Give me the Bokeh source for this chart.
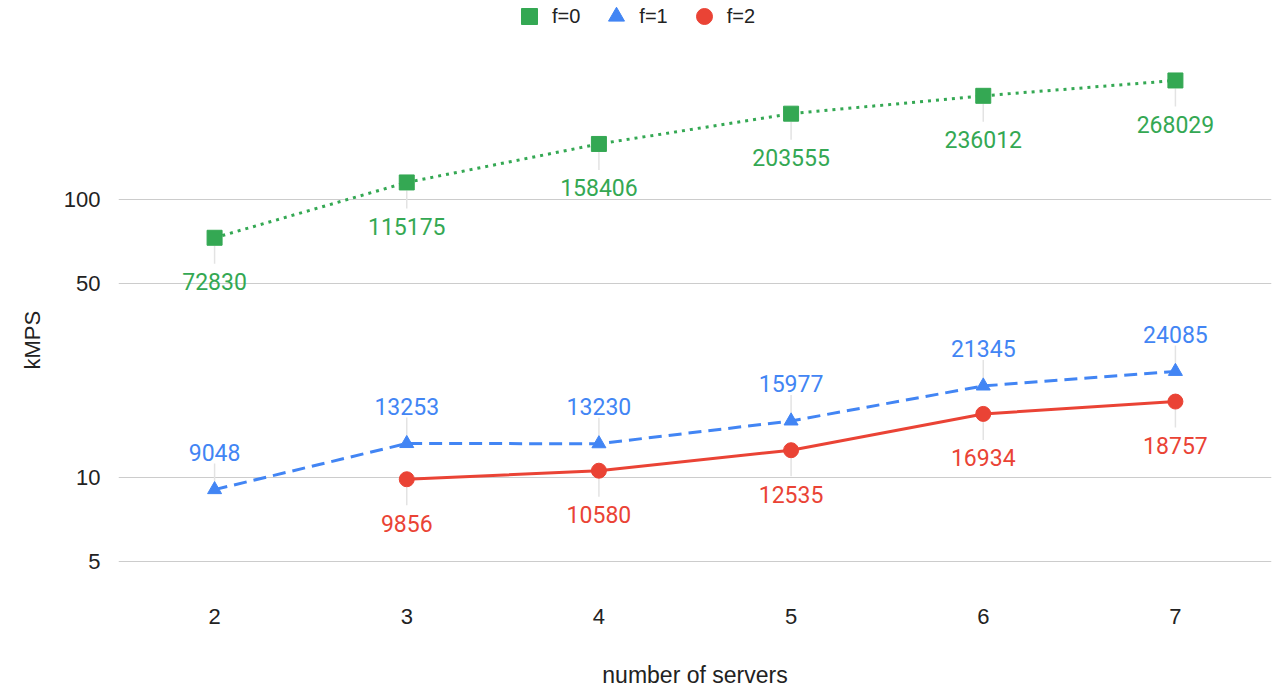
from bokeh.plotting import figure
from bokeh.models import Range1d, FixedTicker, Legend, LegendItem, ColumnDataSource, Title
from bokeh.core.properties import value
from bokeh.embed import file_html
from bokeh.resources import INLINE

servers = [2, 3, 4, 5, 6, 7]
f0_vals = [72830, 115175, 158406, 203555, 236012, 268029]
f1_vals = [9048, 13253, 13230, 15977, 21345, 24085]
f2_servers = [3, 4, 5, 6, 7]
f2_vals = [9856, 10580, 12535, 16934, 18757]
y_ticks = [5, 10, 50, 100]
series_names = ["f=0", "f=1", "f=2"]

GREEN = "#34A853"
BLUE = "#4285F4"
RED = "#EA4335"
LEADER = "#e3e3e3"
TXT = "#222222"

W, H = 1274, 690
FRAME_LEFT, FRAME_RIGHT, FRAME_TOP, FRAME_BOTTOM = 118, 3, 0, 90
frame_h = H - FRAME_TOP - FRAME_BOTTOM
x_lo, x_hi = 1.5, 7.5
y_lo, y_hi = 0.5576, 2.7158  # log10 of range ends (kMPS)
px_per_dec = frame_h / (y_hi - y_lo)

p = figure(width=W, height=H, output_backend="svg", toolbar_location=None,
           y_axis_type="log",
           x_range=Range1d(x_lo, x_hi), y_range=Range1d(10 ** y_lo, 10 ** y_hi),
           min_border_left=FRAME_LEFT, min_border_right=FRAME_RIGHT,
           min_border_top=FRAME_TOP, min_border_bottom=FRAME_BOTTOM)
p.outline_line_color = None
p.background_fill_color = "white"
p.border_fill_color = "white"

p.xgrid.grid_line_color = None
p.ygrid.grid_line_color = "#cccccc"
p.ygrid.grid_line_width = 1

p.xaxis.ticker = FixedTicker(ticks=servers)
p.yaxis.ticker = FixedTicker(ticks=y_ticks)
p.yaxis.major_label_overrides = {t: str(t) for t in y_ticks}
for ax in (p.xaxis[0], p.yaxis[0]):
    ax.axis_line_color = None
    ax.major_tick_line_color = None
    ax.minor_tick_line_color = None
    ax.major_label_text_font = "Liberation Sans"
    ax.major_label_text_font_size = "22px"
    ax.major_label_text_color = TXT
    ax.axis_label_text_font = "Liberation Sans"
    ax.axis_label_text_font_size = "23px"
    ax.axis_label_text_font_style = "normal"
    ax.axis_label_text_color = TXT
p.xaxis.axis_label = "number of servers"
p.xaxis.major_label_standoff = 2
p.xaxis.axis_label_standoff = 35
p.yaxis.major_label_standoff = 12

# y axis title: starts 231 px above the frame bottom, reading upward
p.add_layout(Title(text="kMPS", align="left", offset=231, standoff=32,
                   text_font="Liberation Sans", text_font_size="22px",
                   text_font_style="normal", text_color=TXT), "left")


def k(vals):
    return [v / 1000 for v in vals]


def shift(vals, px):
    return [v / 1000 * 10 ** (px / px_per_dec) for v in vals]


series = [
    (servers, f0_vals, GREEN, "3 5", "square", 15, -1),
    (servers, f1_vals, BLUE, "13 7", "triangle", 14, 1),
    (f2_servers, f2_vals, RED, "solid", "circle", 15, -1),
]
legend_items = []
for (xs, vals, col, dash, mk, sz, side), name in zip(series, series_names):
    p.segment(x0=xs, x1=xs, y0=shift(vals, side * 8), y1=shift(vals, side * 26),
              line_color=LEADER, line_width=1.5)
    p.line(xs, k(vals), line_color=col, line_width=3, line_dash=dash)
    r = p.scatter(xs, k(vals), marker=mk, size=sz, fill_color=col, line_color=col)
    legend_items.append(LegendItem(label=name, renderers=[r]))
    src = ColumnDataSource(dict(x=xs, y=k(vals), t=[str(v) for v in vals]))
    p.text(x="x", y="y", text="t", source=src, text_color=col,
           text_font=value("Roboto"), text_font_size="23px",
           text_align="center", text_baseline="middle",
           y_offset=(-37 if side > 0 else 44))

legend = Legend(items=legend_items, orientation="horizontal", location=(391, 564),
                border_line_alpha=0, background_fill_alpha=0,
                label_text_font="Liberation Sans", label_text_font_size="20px",
                label_text_color=TXT,
                glyph_width=40, glyph_height=40, spacing=16, padding=0, margin=0,
                label_standoff=3)
p.add_layout(legend)

open("out.html", "w").write(file_html(p, INLINE))
